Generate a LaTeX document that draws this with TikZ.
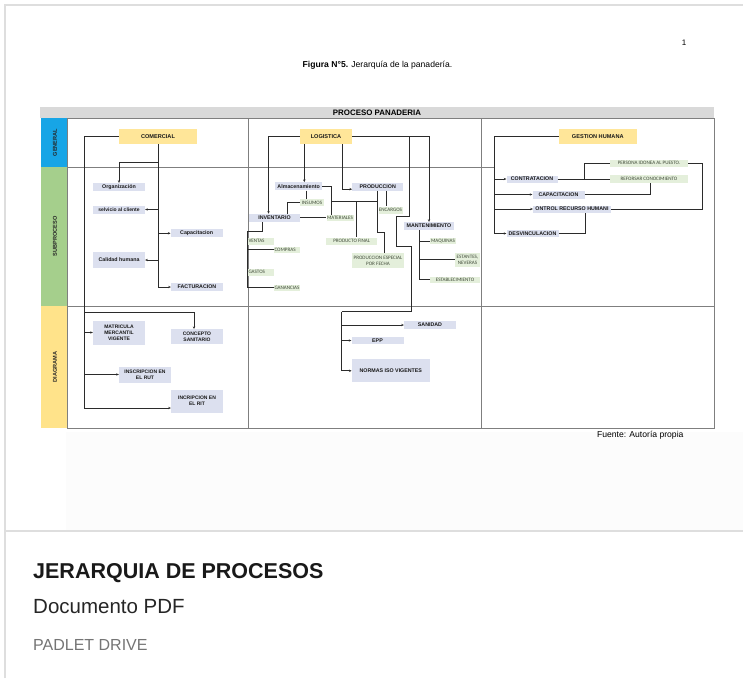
\documentclass[tikz,border=0pt]{standalone}
\usepackage{fontspec}
\setmainfont{Liberation Sans}
\newfontfamily\calib{Carlito}
\usetikzlibrary{arrows.meta,calc}

\definecolor{lav}{HTML}{DCE0EF}
\definecolor{grn}{HTML}{E4EFDB}
\definecolor{ylw}{HTML}{FFE699}
\definecolor{colyellow}{HTML}{FFE38A}
\definecolor{colblue}{HTML}{17A5E6}
\definecolor{colgreen}{HTML}{A5CF8C}
\definecolor{hdr}{HTML}{D9D9D9}
\definecolor{ink}{HTML}{2B2B2B}
\definecolor{gridc}{HTML}{7F7F7F}
\definecolor{cardline}{HTML}{DEDEDE}
\definecolor{subtle}{HTML}{757575}
\definecolor{greentext}{HTML}{3F4A38}

\tikzset{
  box/.style={inner sep=0pt, align=center, text=black!90},
  lavbox/.style={box, fill=lav, font=\bfseries\fontsize{5.3}{6}\selectfont},
  grnbox/.style={box, fill=grn, text=greentext, font=\calib\fontsize{5.1}{5.9}\selectfont},
  ylwbox/.style={box, fill=ylw, font=\bfseries\fontsize{5.6}{6}\selectfont},
  conn/.style={draw=ink, line width=0.8pt},
  arr/.style={conn, -{Stealth[length=2.6pt,width=2.4pt]}},
  gridline/.style={draw=gridc, line width=0.6pt},
  sidelabel/.style={rotate=90, font=\bfseries\fontsize{5.6}{6}\selectfont, text=black!85}
}

\begin{document}
\begin{tikzpicture}[x=1pt,y=-1pt]
\useasboundingbox (0,0) rectangle (743,678);
\fill[white] (0,0) rectangle (743,678);
\fill[black!1] (66,432) rectangle (743,531);

% card frame
\draw[cardline, line width=1.2pt] (5,678) -- (5,5) -- (743,5);
\draw[cardline, line width=1.8pt] (5,531) -- (743,531);

% page header
\node[font=\fontsize{8}{9}\selectfont] (pnum) at (684,43) {1};
\node[font=\fontsize{8.6}{10}\selectfont] (fig) at (377.5,65.5) {\textbf{Figura N°5.} Jerarquía de la panadería.};

% table frame
\fill[hdr] (40,107) rectangle (714,118);
\node[font=\bfseries\fontsize{7.9}{9}\selectfont] (tabtitle) at (377,112.6) {PROCESO PANADERIA};
\fill[colblue] (41,118) rectangle (67,167);
\fill[colgreen] (41,167) rectangle (67,306);
\fill[colyellow] (41,306) rectangle (67,428);
\node[sidelabel] (lgen) at (55,142.5) {GENERAL};
\node[sidelabel] (lsub) at (55,236.5) {SUBPROCESO};
\node[sidelabel] (ldia) at (55,367) {DIAGRAMA};
\draw[gridline] (67,118) rectangle (714,428);
\draw[gridline] (67,167) -- (495,167);
\draw[gridline] (67,306) -- (714,306);
\draw[gridline] (248,118) -- (248,428);
\draw[gridline] (481,118) -- (481,428);

% ---------- COMERCIAL ----------
\node[ylwbox, minimum width=78pt, minimum height=15pt] (com) at (158,136.7) {COMERCIAL};
\node[lavbox, minimum width=52pt, minimum height=8pt] (org) at (119,187) {Organización};
\node[lavbox, minimum width=52pt, minimum height=8pt, font=\bfseries\fontsize{5}{6}\selectfont] (serv) at (119,209.5) {selvicio al cliente};
\node[lavbox, minimum width=52pt, minimum height=8pt] (cap) at (196.7,233.3) {Capacitacion};
\node[lavbox, minimum width=52pt, minimum height=16pt] (cal) at (119,260) {Calidad humana};
\node[lavbox, minimum width=52pt, minimum height=8pt] (fac) at (197,287) {FACTURACION};

\node[lavbox, minimum width=52pt, minimum height=24pt, font=\bfseries\fontsize{5}{6.2}\selectfont] (mat) at (119,332.5) {MATRICULA\\MERCANTIL\\VIGENTE};
\node[lavbox, minimum width=52pt, minimum height=15pt, font=\bfseries\fontsize{5}{6.2}\selectfont] (con) at (197,336.7) {CONCEPTO\\SANITARIO};
\node[lavbox, minimum width=52pt, minimum height=16pt, font=\bfseries\fontsize{5}{6.2}\selectfont] (rut) at (145,374.5) {INSCRIPCION EN\\EL RUT};
\node[lavbox, minimum width=52pt, minimum height=23pt, font=\bfseries\fontsize{5}{6.4}\selectfont] (rit) at (197,401) {INCRIPCION EN\\EL RIT};

\coordinate (ctop) at (84,136.7);
\coordinate (cj) at (84,312);
\draw[arr] (com.west) -- (ctop) |- ([yshift=-7pt]rit.west);
\draw[arr] (cj) -| ([xshift=-3pt]con.north);
\draw[arr] (ctop |- mat.west) -- (mat.west);
\draw[arr] (ctop |- rut.west) -- (rut.west);

\coordinate (oj) at (158,162);
\draw[conn] (com.south) -- (com.south |- fac.west);
\draw[arr] (oj) -| (org.north);
\draw[arr] (com.south |- serv.east) -- (serv.east);
\draw[arr] (com.south |- cap.west) -- (cap.west);
\draw[arr] (com.south |- cal.east) -- (cal.east);
\draw[arr] (com.south |- fac.west) -- (fac.west);

% ---------- LOGISTICA ----------
\node[ylwbox, minimum width=52pt, minimum height=15pt] (log) at (326,136.7) {LOGISTICA};
\node[lavbox, minimum width=47pt, minimum height=8pt] (alm) at (298.7,186.3) {Almacenamiento};
\node[grnbox, minimum width=24pt, minimum height=7pt] (ins) at (312,202.7) {INSUMOS};
\node[lavbox, minimum width=51pt, minimum height=8pt] (inv) at (274.5,217.8) {INVENTARIO};
\node[grnbox, minimum width=27pt, minimum height=6pt] (mtl) at (340,217.8) {MATERIALES};
\node[lavbox, minimum width=51pt, minimum height=8pt] (pro) at (377.8,186.7) {PRODUCCION};
\node[grnbox, minimum width=24pt, minimum height=7pt] (enc) at (390.5,210) {ENCARGOS};
\node[grnbox, minimum width=51pt, minimum height=7pt] (pfi) at (351.7,241) {PRODUCTO FINAL};
\node[grnbox, minimum width=52pt, minimum height=15pt] (pes) at (378,260.8) {PRODUCCION ESPECIAL\\POR FECHA};
\node[lavbox, minimum width=50pt, minimum height=8pt] (man) at (429,226) {MANTENIMIENTO};
\node[grnbox, minimum width=26pt, minimum height=6pt] (maq) at (443,241.3) {MAQUINAS};
\node[grnbox, minimum width=25pt, minimum height=14pt] (est) at (467.5,259.7) {ESTANTES,\\NEVERAS};
\node[grnbox, minimum width=50pt, minimum height=6pt] (estb) at (455,279.7) {ESTABLECIMIENTO};
\node[grnbox, minimum width=26pt, minimum height=7pt, text width=25pt, align=left] (ven) at (261,241) {VENTAS};
\node[grnbox, minimum width=26pt, minimum height=6pt, text width=25pt, align=left] (cmp) at (287,249.7) {COMPRAS};
\node[grnbox, minimum width=26pt, minimum height=7pt, text width=25pt, align=left] (gas) at (261,272.3) {GASTOS};
\node[grnbox, minimum width=26pt, minimum height=6pt, text width=25pt, align=left] (gan) at (287,287.5) {GANANCIAS};

\node[lavbox, minimum width=52pt, minimum height=8pt] (san) at (430,325) {SANIDAD};
\node[lavbox, minimum width=52pt, minimum height=7.6pt] (epp) at (377.5,340.5) {EPP};
\node[lavbox, minimum width=78pt, minimum height=23pt] (nor) at (390.8,370.8) {NORMAS ISO VIGENTES};

\draw[arr] (log.west) -| ([xshift=-6pt]inv.north);
\draw[arr] ([xshift=-21.7pt]log.south) -- ([xshift=-21.7pt]log.south |- alm.north);
\draw[arr] ([xshift=16.7pt]log.south) |- ([yshift=-2.5pt]pro.west);
\draw[arr] (log.east) -| (man.north);

% branch down to the diagram row
\coordinate (lj) at (409,136.7);
\coordinate (dj) at (341.7,311.7);
\draw[conn] (lj) -- ++(0,80) -- ++(-12.3,0) -- ++(0,30) -- ++(15,0) -- ++(0,65) -- (dj);
\draw[arr] (dj) |- (nor.west);
\draw[arr] (dj |- san.west) -- (san.west);
\draw[arr] (dj |- epp.west) -- (epp.west);

% almacenamiento / produccion links
\draw[conn] (alm.east) -| ([xshift=-9pt]mtl.north);
\draw[conn] ([xshift=8pt]alm.south) -- ([xshift=8pt]alm.south |- ins.north);
\draw[conn] (ins.west) -| ([xshift=13pt]inv.north);
\draw[conn] (inv.east) -- (mtl.west);
\coordinate (hj) at (331,201.5);
\draw[conn] (hj) -- (hj -| pro.south);
\draw[conn] (pro.south) -- ++(0,41) -| ([xshift=6pt]pes.north);
\draw[conn] ([xshift=5pt]pfi.north |- hj) -- ([xshift=5pt]pfi.north);
\draw[conn] ([xshift=9pt]pro.south) -- ([xshift=9pt]pro.south |- enc.north);

% mantenimiento
\draw[conn] ([xshift=-10pt]man.south) |- (estb.west);
\draw[conn] ([xshift=-10pt]man.south |- maq.west) -- (maq.west);
\draw[conn] ([xshift=-10pt]man.south |- est.west) -- (est.west);

% inventario
\coordinate (ij) at (247.3,231);
\draw[conn] ([xshift=-12pt]inv.south) |- (ij) -- (ij |- gan.west) -- (gan.west);
\draw[conn] (ij |- cmp.west) -- (cmp.west);
\draw[conn] (ij |- ven.west) -- (ven.west);
\draw[conn] (ij |- gas.west) -- (gas.west);

% ---------- GESTION HUMANA ----------
\node[ylwbox, minimum width=78pt, minimum height=15pt] (gh) at (597.8,136.7) {GESTION HUMANA};
\node[lavbox, minimum width=51pt, minimum height=7pt] (ctr) at (532,179) {CONTRATACION};
\node[lavbox, minimum width=52pt, minimum height=8pt] (cpc) at (558.5,194.5) {CAPACITACION};
\node[lavbox, minimum width=78pt, minimum height=7pt] (crh) at (572,209) {ONTROL RECURSO HUMANI};
\node[lavbox, minimum width=52pt, minimum height=7pt] (des) at (532.5,233.5) {DESVINCULACION};
\node[grnbox, minimum width=78pt, minimum height=7pt] (per) at (649,163) {PERSONA IDONEA AL PUESTO.};
\node[grnbox, minimum width=78pt, minimum height=8pt] (ref) at (649,179) {REFORSAR CONOCIMIENTO};

\coordinate (gt) at (494.3,136.7);
\draw[arr] (gh.west) -- (gt) |- (des.west);
\draw[arr] (gt |- ctr.west) -- (ctr.west);
\draw[arr] (gt |- cpc.west) -- (cpc.west);
\draw[arr] (gt |- crh.west) -- (crh.west);
\coordinate (pb) at (584.3,179);
\draw[conn] (ctr.east) -- (ref.west);
\draw[conn] (pb) |- (per.west);
\draw[conn] (cpc.east) -| ([xshift=1.7pt]ref.south);
\draw[conn] (per.east) -- ++(14.4,0) |- (crh.east);
\draw[conn] (des.east) -| ([xshift=13pt]crh.south);

% footer of the page
\node[anchor=east, font=\fontsize{8.6}{10}\selectfont] (src) at (687,435) {Fuente: Autoría propia};

% card caption
\node[anchor=base west, inner sep=0pt, font=\bfseries\fontsize{21.5}{24}\selectfont, text=black!90] (ctitle) at (33,578) {JERARQUIA DE PROCESOS};
\node[anchor=base west, inner sep=0pt, font=\fontsize{20.5}{24}\selectfont, text=black!85] (ctype) at (33,613) {Documento PDF};
\node[anchor=base west, inner sep=0pt, font=\fontsize{16}{18}\selectfont, text=subtle] (csrc) at (33,650) {PADLET DRIVE};
\end{tikzpicture}
\end{document}
